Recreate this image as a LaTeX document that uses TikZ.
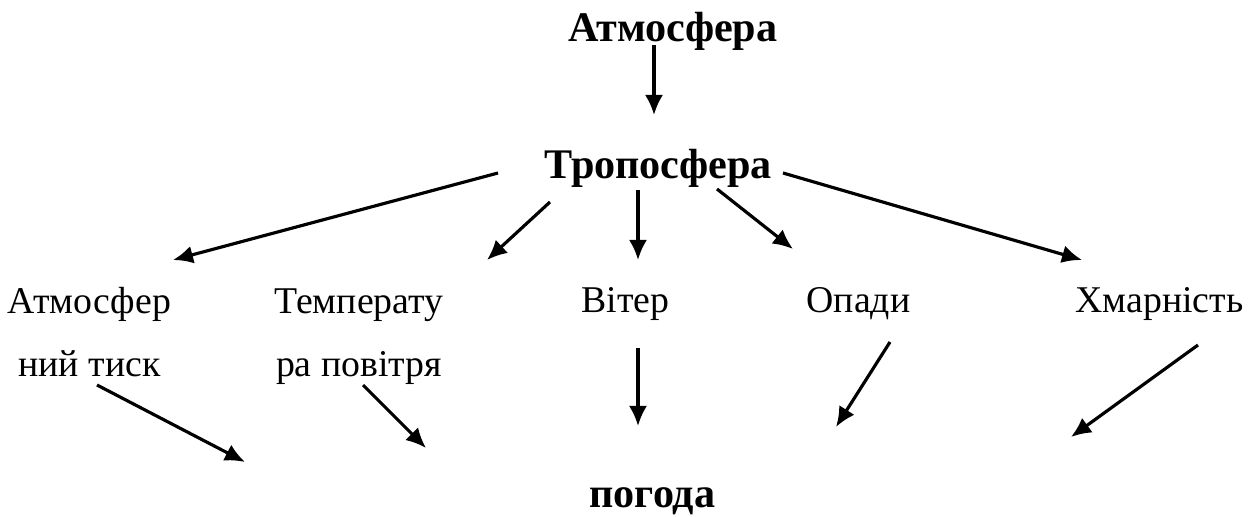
\documentclass[tikz,border=0pt]{standalone}
\usepackage{fontspec}
\setmainfont{Liberation Serif}
\usepackage{tikz}
\usetikzlibrary{arrows.meta,positioning}

\begin{document}
\begin{tikzpicture}[
  term/.style={font=\fontsize{21.5}{36.4}\selectfont, align=center, anchor=base, inner sep=0pt},
  head/.style={font=\bfseries\fontsize{24}{28}\selectfont, anchor=base, inner sep=0pt},
  conn/.style={line width=1.8pt, -{Latex[length=4mm,width=3.6mm]}}]

\useasboundingbox (0,0) rectangle (25.16,-10.34);

% Livelli principali
\node[head] (atm)  at (13.46,-0.84)  {Атмосфера};
\node[head] (trop) at (13.16,-3.58)  {Тропосфера};
\node[head] (pog)  at (13.05,-10.14) {погода};

% Fattori (base = ultima riga)
\node[term] (tisk) at (1.79,-7.54)  {Атмосфер\\ний тиск};
\node[term] (temp) at (7.18,-7.54)  {Температу\\ра повітря};
\node[term] (vit)  at (12.51,-6.26) {Вітер};
\node[term] (opad) at (17.17,-6.26) {Опади};
\node[term] (hmar) at (23.19,-6.26) {Хмарність};

% Estremi delle frecce
\coordinate (a0) at (13.08,-0.90);  \coordinate (a1) at (13.08,-2.30);
\coordinate (t1) at (9.96,-3.46);   \coordinate (f1) at (3.46,-5.20);
\coordinate (t2) at (11.00,-4.04);  \coordinate (f2) at (9.74,-5.20);
\coordinate (t3) at (12.76,-3.80);  \coordinate (f3) at (12.76,-5.20);
\coordinate (t4) at (14.34,-3.78);  \coordinate (f4) at (15.86,-4.98);
\coordinate (t5) at (15.66,-3.46);  \coordinate (f5) at (21.64,-5.20);
\coordinate (g1) at (1.94,-7.70);   \coordinate (p1) at (4.90,-9.24);
\coordinate (g2) at (7.26,-7.70);   \coordinate (p2) at (8.52,-8.96);
\coordinate (g3) at (12.76,-6.96);  \coordinate (p3) at (12.76,-8.52);
\coordinate (g4) at (17.80,-6.84);  \coordinate (p4) at (16.72,-8.54);
\coordinate (g5) at (23.96,-6.90);  \coordinate (p5) at (21.42,-8.74);

% Atmosfera -> troposfera
\draw[conn] (a0) -- (a1);

% Troposfera -> fattori
\draw[conn] (t1) -- (f1);
\draw[conn] (t2) -- (f2);
\draw[conn] (t3) -- (f3);
\draw[conn] (t4) -- (f4);
\draw[conn] (t5) -- (f5);

% Fattori -> tempo
\draw[conn] (g1) -- (p1);
\draw[conn] (g2) -- (p2);
\draw[conn] (g3) -- (p3);
\draw[conn] (g4) -- (p4);
\draw[conn] (g5) -- (p5);

\end{tikzpicture}
\end{document}
